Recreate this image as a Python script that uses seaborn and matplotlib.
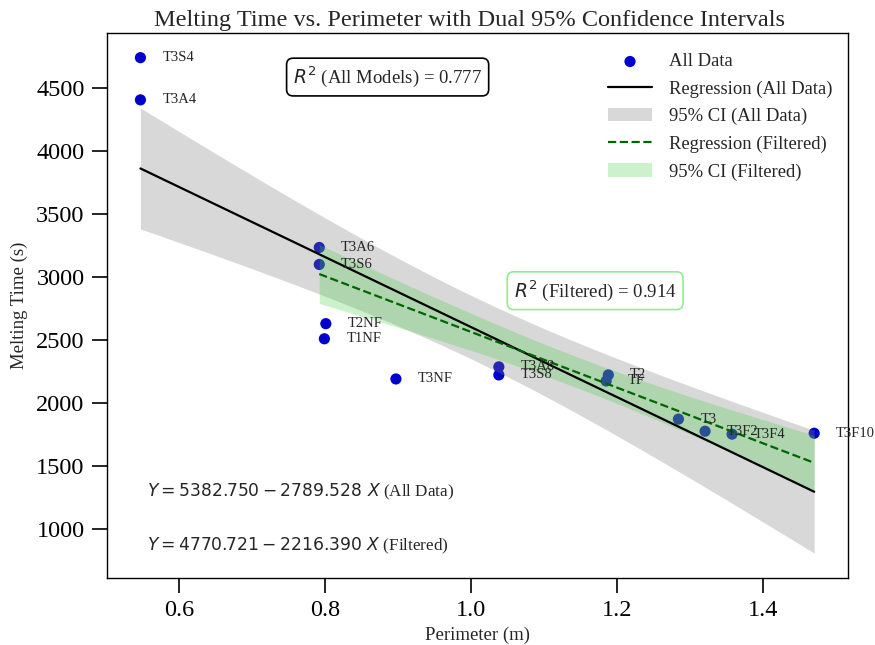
import numpy as np
import pandas as pd
import matplotlib
matplotlib.use("Agg")
import matplotlib.pyplot as plt
import seaborn as sns

# ---- data ----
labels = ["T3S4", "T3A4", "T3A6", "T3S6", "T2NF", "T1NF", "T3NF", "T3A8", "T3S8",
          "T2", "TF", "T3", "T3F2", "T3F4", "T3F10"]
perimeter = [0.547, 0.547, 0.792, 0.792, 0.801, 0.799, 0.897, 1.038, 1.038,
             1.188, 1.185, 1.284, 1.3205, 1.3575, 1.470]
melt_time = [4739, 4404, 3232, 3097, 2627, 2507, 2188, 2284, 2220,
             2220, 2172, 1869, 1773, 1750, 1757]
excluded = ["T3S4", "T3A4", "T2NF", "T1NF", "T3NF"]

eq_all = r"$Y = 5382.750 - 2789.528\ X$ (All Data)"
eq_filt = r"$Y = 4770.721 - 2216.390\ X$ (Filtered)"
r2_all_text = r"$R^2$ (All Models) = 0.777"
r2_filt_text = r"$R^2$ (Filtered) = 0.914"
t_crit = {15: 2.1604, 10: 2.3060}  # two-sided 95% t quantiles for n-2 dof

df = pd.DataFrame({"label": labels, "x": perimeter, "y": melt_time})
dff = df[~df["label"].isin(excluded)].reset_index(drop=True)


def fit_ci(d):
    x = d["x"].to_numpy(float)
    y = d["y"].to_numpy(float)
    n = len(x)
    b1, b0 = np.polyfit(x, y, 1)
    resid = y - (b0 + b1 * x)
    s = np.sqrt(np.sum(resid ** 2) / (n - 2))
    sxx = np.sum((x - x.mean()) ** 2)
    xs = np.linspace(x.min(), x.max(), 200)
    ys = b0 + b1 * xs
    hw = t_crit[n] * s * np.sqrt(1.0 / n + (xs - x.mean()) ** 2 / sxx)
    return pd.DataFrame({"x": xs, "y": ys, "lo": ys - hw, "hi": ys + hw})


fa = fit_ci(df)
ff = fit_ci(dff)

sns.set_theme(style="ticks")
plt.rcParams["font.family"] = ["Liberation Serif", "DejaVu Serif"]
plt.rcParams["mathtext.fontset"] = "dejavusans"

fig = plt.figure(figsize=(8.75, 6.45), dpi=100)
ax = fig.add_axes([0.122, 0.104, 0.847, 0.845])

sns.scatterplot(data=df, x="x", y="y", color="#0000CD", s=65, edgecolor="none",
                ax=ax, label="All Data", zorder=2)
sns.lineplot(data=fa, x="x", y="y", color="black", lw=1.6, ax=ax,
             label="Regression (All Data)", zorder=3)
ax.fill_between(fa["x"], fa["lo"], fa["hi"], color="gray", alpha=0.3, lw=0,
                label="95% CI (All Data)", zorder=2.5)
sns.lineplot(data=ff, x="x", y="y", color="darkgreen", lw=1.6, ls="--", ax=ax,
             label="Regression (Filtered)", zorder=3)
ax.fill_between(ff["x"], ff["lo"], ff["hi"], color="limegreen", alpha=0.25, lw=0,
                label="95% CI (Filtered)", zorder=2.6)

for lab, xv, yv in zip(labels, perimeter, melt_time):
    ax.text(xv + 0.03, yv, lab, fontsize=10.5, va="center", ha="left", zorder=4)

for s in ["top", "right"]:
    ax.spines[s].set_visible(True)
for s in ax.spines.values():
    s.set_color("black")
    s.set_linewidth(1.0)

ax.tick_params(axis="both", which="major", labelsize=17.5, length=11, width=1.2,
               colors="black", direction="out", pad=5)
ax.set_xticks([0.6, 0.8, 1.0, 1.2, 1.4])
ax.set_yticks([1000, 1500, 2000, 2500, 3000, 3500, 4000, 4500])
ax.set_xlabel("Perimeter (m)", fontsize=13.5, labelpad=4)
ax.set_ylabel("Melting Time (s)", fontsize=13.5, labelpad=6)
ax.set_title("Melting Time vs. Perimeter with Dual 95% Confidence Intervals",
             fontsize=17.5, pad=5, x=0.489)

ax.legend(loc="upper right", bbox_to_anchor=(1.007, 1.0), frameon=False,
          fontsize=13.4, handlelength=2.4, handletextpad=0.9,
          labelspacing=0.55, borderaxespad=0.7)

ax.text(0.379, 0.919, r2_all_text, transform=ax.transAxes, fontsize=13.5,
        ha="center", va="center",
        bbox=dict(boxstyle="round,pad=0.35", fc="white", ec="black", lw=1.2))
ax.text(0.659, 0.527, r2_filt_text, transform=ax.transAxes, fontsize=13.5,
        ha="center", va="center",
        bbox=dict(boxstyle="round,pad=0.35", fc="white", ec="lightgreen", lw=1.2))
ax.text(0.054, 0.157, eq_all, transform=ax.transAxes, fontsize=12.3,
        ha="left", va="center")
ax.text(0.054, 0.058, eq_filt, transform=ax.transAxes, fontsize=12.3,
        ha="left", va="center")

fig.savefig("out.png", dpi=100)
